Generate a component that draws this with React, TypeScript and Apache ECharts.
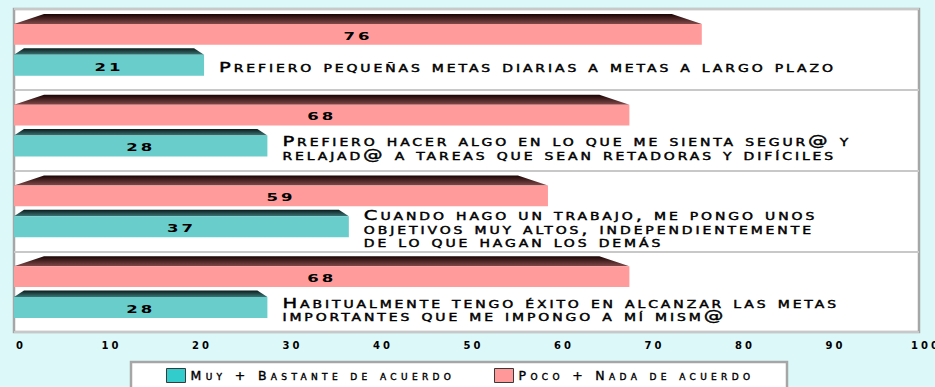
import React, { useEffect, useRef } from 'react';
import * as echarts from 'echarts';

// ---- data ----
const CATEGORIES = [
  'Prefiero pequeñas metas diarias a metas a largo plazo',
  'Prefiero hacer algo en lo que me sienta segur@ y\nrelajad@ a tareas que sean retadoras y difíciles',
  'Cuando hago un trabajo, me pongo unos\nobjetivos muy altos, independientemente\nde lo que hagan los demás',
  'Habitualmente tengo éxito en alcanzar las metas\nimportantes que me impongo a mí mism@',
];
const SERIES_NAMES = ['Muy + Bastante de acuerdo', 'Poco + Nada de acuerdo'];
const MUY_BASTANTE = [21, 28, 37, 28];
const POCO_NADA = [76, 68, 59, 68];
const X_MIN = 0;
const X_MAX = 100;
const X_STEP = 10;

const CSS = `
#chart-root text { font-variant: small-caps !important; }
#chart-root text[style*="DejaVu Sans"] { letter-spacing: 2px !important; }
#chart-root text[style*="Verdana"] { letter-spacing: 4.35px !important; }
#chart-root text[style*="Tahoma"] { letter-spacing: 3px !important; }
`;

type Kind = 'pink' | 'teal';

const GEOM: Record<Kind, any> = {
  pink: { bt: -0.438, ft: -0.315, fb: -0.058, inset: 30, top: '#1a0404', bot: '#804848', face: '#ff9b9b' },
  teal: { bt: -0.014, ft: 0.066, fb: 0.326, inset: 10, top: '#0a1c1c', bot: '#3c7474', face: '#69cdcb' },
};

function makeRender(kind: Kind) {
  return (params: any, api: any) => {
    const v = api.value(0);
    const ci = api.value(1);
    const start = api.coord([0, ci]);
    const end = api.coord([v, ci]);
    const bh = api.size([0, 1])[1];
    const cy = start[1];
    const x0 = start[0];
    const x1 = end[0];
    const g = GEOM[kind];
    const bevelTop = cy + g.bt * bh;
    const faceTop = cy + g.ft * bh;
    const faceBot = cy + g.fb * bh;
    const children: any[] = [
      {
        type: 'polygon',
        shape: {
          points: [
            [x0, faceTop],
            [x0 + g.inset, bevelTop],
            [x1 - g.inset, bevelTop],
            [x1, faceTop],
          ],
        },
        style: {
          fill: new echarts.graphic.LinearGradient(0, 0, 0, 1, [
            { offset: 0, color: g.top },
            { offset: 1, color: g.bot },
          ]),
        },
      },
      {
        type: 'rect',
        shape: { x: x0, y: faceTop, width: x1 - x0, height: faceBot - faceTop },
        style: { fill: g.face },
      },
      {
        type: 'text',
        x: (x0 + x1) / 2,
        y: (faceTop + faceBot) / 2 + 1.5,
        scaleX: 1.5,
        style: {
          text: String(v),
          align: 'center',
          verticalAlign: 'middle',
          fontSize: 11,
          fontWeight: 'bold',
          fontFamily: 'DejaVu Sans',
          fill: '#000',
        },
      },
    ];
    if (kind === 'teal') {
      children.push({
        type: 'text',
        x: x1 + 15,
        y: (faceTop + faceBot) / 2 + 2,
        scaleX: 1.45,
        style: {
          text: CATEGORIES[ci],
          align: 'left',
          verticalAlign: 'middle',
          fontSize: 13.5,
          lineHeight: 13.5,
          fontFamily: 'DejaVu Sans',
          fill: '#000',
          stroke: '#000',
          lineWidth: 0.4,
        },
      });
    }
    return { type: 'group', children };
  };
}

export default function App() {
  const ref = useRef<HTMLDivElement>(null);
  useEffect(() => {
    if (!ref.current) return;
    const chart = echarts.init(ref.current, undefined, { renderer: 'svg' });
    const legendText = {
      color: '#000',
      fontSize: 12.5,
      fontFamily: 'Verdana, DejaVu Sans',
      textBorderColor: '#000',
      textBorderWidth: 0.4,
    };
    chart.setOption({
      animation: false,
      backgroundColor: '#ddf8f8',
      grid: {
        show: true,
        left: 14,
        right: 16,
        top: 9,
        bottom: 55,
        containLabel: false,
        outerBoundsMode: 'none',
        backgroundColor: '#ffffff',
        borderColor: '#a6a6a6',
        borderWidth: 2.5,
      },
      xAxis: {
        type: 'value',
        min: X_MIN,
        max: X_MAX,
        interval: X_STEP,
        axisLine: { show: false },
        axisTick: { show: false },
        splitLine: { show: false },
        axisLabel: {
          color: '#000',
          fontSize: 10,
          fontWeight: 'bold',
          fontFamily: 'Tahoma, DejaVu Sans',
          margin: 8,
          padding: [0, 0, 0, 14],
        },
      },
      yAxis: {
        type: 'category',
        data: CATEGORIES,
        inverse: true,
        axisLine: { show: false },
        axisTick: { show: false },
        axisLabel: { show: false },
        splitLine: { show: true, lineStyle: { color: '#c8c8c8', width: 2 } },
      },
      legend: [
        {
          data: [{ name: SERIES_NAMES[0], itemStyle: { color: '#33cccc', borderColor: '#3a3a3a', borderWidth: 1 } }],
          left: 166,
          top: 368,
          padding: 0,
          itemWidth: 19,
          itemHeight: 14,
          icon: 'rect',
          selectedMode: false,
          textStyle: legendText,
        },
        {
          data: [{ name: SERIES_NAMES[1], itemStyle: { color: '#ff9999', borderColor: '#3a3a3a', borderWidth: 1 } }],
          left: 494,
          top: 368,
          padding: 0,
          itemWidth: 19,
          itemHeight: 14,
          icon: 'rect',
          selectedMode: false,
          textStyle: legendText,
        },
      ],
      graphic: [
        {
          type: 'rect',
          z: 0,
          shape: { x: 131, y: 362, width: 656, height: 40 },
          style: { fill: '#ffffff', stroke: '#a6a6a6', lineWidth: 2.5 },
        },
      ],
      series: [
        {
          type: 'custom',
          name: SERIES_NAMES[1],
          itemStyle: { color: '#ff9999' },
          encode: { x: 0, y: 1 },
          renderItem: makeRender('pink'),
          data: POCO_NADA.map((v, i) => [v, i]),
        },
        {
          type: 'custom',
          name: SERIES_NAMES[0],
          itemStyle: { color: '#66cccc' },
          encode: { x: 0, y: 1 },
          renderItem: makeRender('teal'),
          data: MUY_BASTANTE.map((v, i) => [v, i]),
        },
      ],
    });
    return () => chart.dispose();
  }, []);
  return (
    <div id="chart-root" style={{ position: 'fixed', left: 0, top: 0, width: 935, height: 387 }}>
      <style>{CSS}</style>
      <div ref={ref} style={{ width: 935, height: 387 }} />
    </div>
  );
}
